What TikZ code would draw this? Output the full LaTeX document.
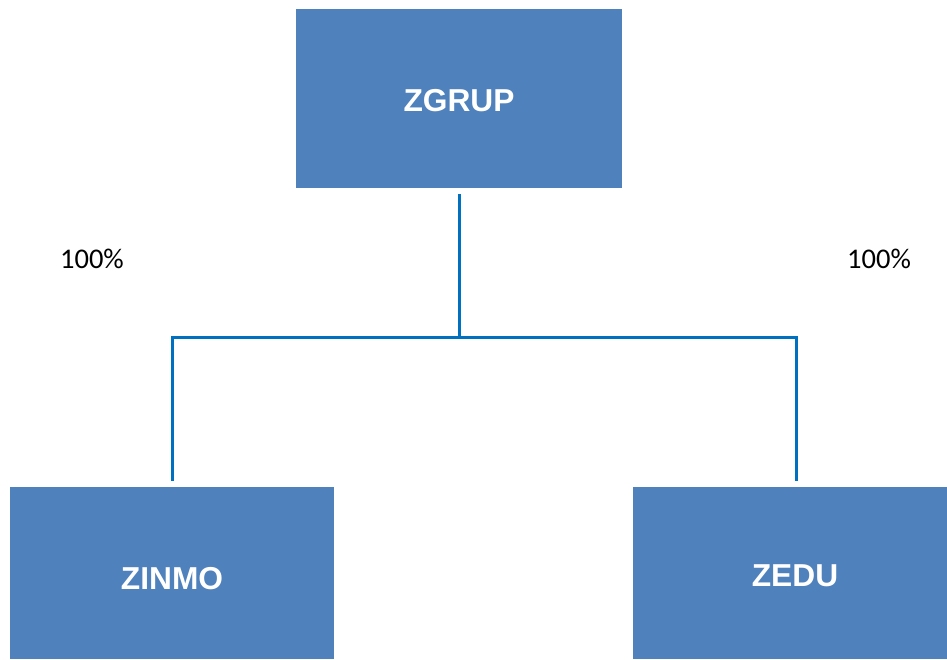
\documentclass[tikz,border=0pt]{standalone}
\usepackage{fontspec}
\setmainfont{Liberation Sans}
\newfontfamily\calib{Carlito}
\definecolor{boxblue}{HTML}{4F81BD}
\definecolor{lineblue}{HTML}{0070C0}
\begin{document}
\begin{tikzpicture}[x=1pt,y=-1pt,
  orgbox/.style={fill=boxblue,draw=none,text=white,font=\fontsize{31.7}{32}\selectfont\bfseries,inner sep=0},
  conn/.style={draw=lineblue,line width=3pt},
  pct/.style={font=\calib\fontsize{28.5}{28.5}\selectfont,text=black,inner sep=0}]
\useasboundingbox (0,0) rectangle (947,659);
\fill[boxblue] (296,9) rectangle (622,188);
\node[orgbox] (zgrup) at (459,101) {ZGRUP};
\fill[boxblue] (10,487) rectangle (334,659);
\node[orgbox] (zinmo) at (172,579) {ZINMO};
\fill[boxblue] (633,487) rectangle (947,659);
\node[orgbox] (zedu) at (795,576) {ZEDU};
\coordinate (top) at (459,194);
\coordinate (mid) at (459,337);
\coordinate (lt) at (172,337);
\coordinate (rt) at (796,337);
\coordinate (lb) at (172,481);
\coordinate (rb) at (796,481);
\draw[conn] (top) -- (mid);
\draw[conn] (lb) -- (lt) -- (rt) -- (rb);
\node[pct] (pl) at (92,259) {100\%};
\node[pct] (pr) at (879,259) {100\%};
\end{tikzpicture}
\end{document}
